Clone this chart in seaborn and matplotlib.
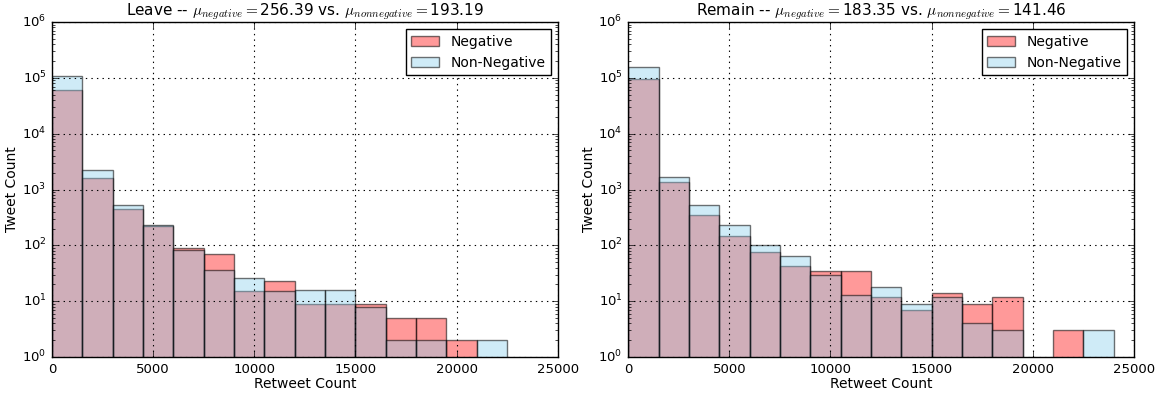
import matplotlib
matplotlib.use("Agg")
import matplotlib.pyplot as plt
import matplotlib.ticker as mticker
import seaborn as sns
import pandas as pd

plt.style.use("classic")
plt.rcParams["figure.facecolor"] = "white"
plt.rcParams["savefig.facecolor"] = "white"
plt.rcParams["font.family"] = ["DejaVu Sans"]
plt.rcParams["mathtext.fontset"] = "cm"

# bin edges (retweet count), width 1500
bin_edges = list(range(0, 24001, 1500))

# Leave
leave_negative = [60000, 1580, 445, 225, 88, 70, 15, 23, 9, 9, 9, 5, 5, 2, 0, 0]
leave_nonnegative = [107000, 2200, 520, 228, 83, 36, 26, 15, 16, 16, 8, 2, 2, 0, 2, 0]
leave_means = (256.39, 193.19)

# Remain
remain_negative = [94700, 1350, 348, 149, 77, 43, 35, 35, 12, 7, 14, 9, 12, 0, 3, 0]
remain_nonnegative = [157000, 1680, 525, 228, 103, 64, 30, 13, 18, 9, 12, 4, 3, 0, 0, 3]
remain_means = (183.35, 141.46)

panels = [
    ("Leave", leave_negative, leave_nonnegative, leave_means),
    ("Remain", remain_negative, remain_nonnegative, remain_means),
]

fig = plt.figure(figsize=(11.57, 3.94), dpi=100)
lefts = [0.045, 0.543]
edge_rgba = (0, 0, 0, 0.55)

for (name, neg, nonneg, means), lx in zip(panels, lefts):
    ax = fig.add_axes([lx, 0.094, 0.437, 0.85])
    df = pd.DataFrame({"edge": [e + 750 for e in bin_edges[:-1]],
                       "neg": neg, "nonneg": nonneg})
    sns.histplot(data=df, x="edge", weights="neg", bins=bin_edges, ax=ax,
                 color="red", alpha=0.4, edgecolor=edge_rgba, linewidth=1,
                 label="Negative")
    sns.histplot(data=df, x="edge", weights="nonneg", bins=bin_edges, ax=ax,
                 color="skyblue", alpha=0.4, edgecolor=edge_rgba, linewidth=1,
                 label="Non-Negative")
    ax.set_yscale("log")
    ax.set_ylim(1, 1e6)
    ax.set_xlim(0, 25000)
    ax.yaxis.set_major_locator(mticker.LogLocator(base=10, numticks=10))
    ax.yaxis.set_minor_locator(mticker.LogLocator(base=10, subs=range(2, 10), numticks=10))
    ax.yaxis.set_minor_formatter(mticker.NullFormatter())
    ax.tick_params(which="minor", length=2)
    ax.grid(True, which="major", ls=":", color="black", lw=0.8)
    ax.set_xlabel("Retweet Count", fontsize=10, labelpad=1)
    ax.set_ylabel("Tweet Count", fontsize=10, labelpad=2)
    ax.tick_params(labelsize=9.5)
    ax.set_title(r"%s -- $\mu_{negative}=$%.2f vs. $\mu_{nonnegative}=$%.2f"
                 % (name, means[0], means[1]), fontsize=11)
    ax.legend(loc="upper right", fontsize=10)

fig.savefig("out.png", dpi=100)
